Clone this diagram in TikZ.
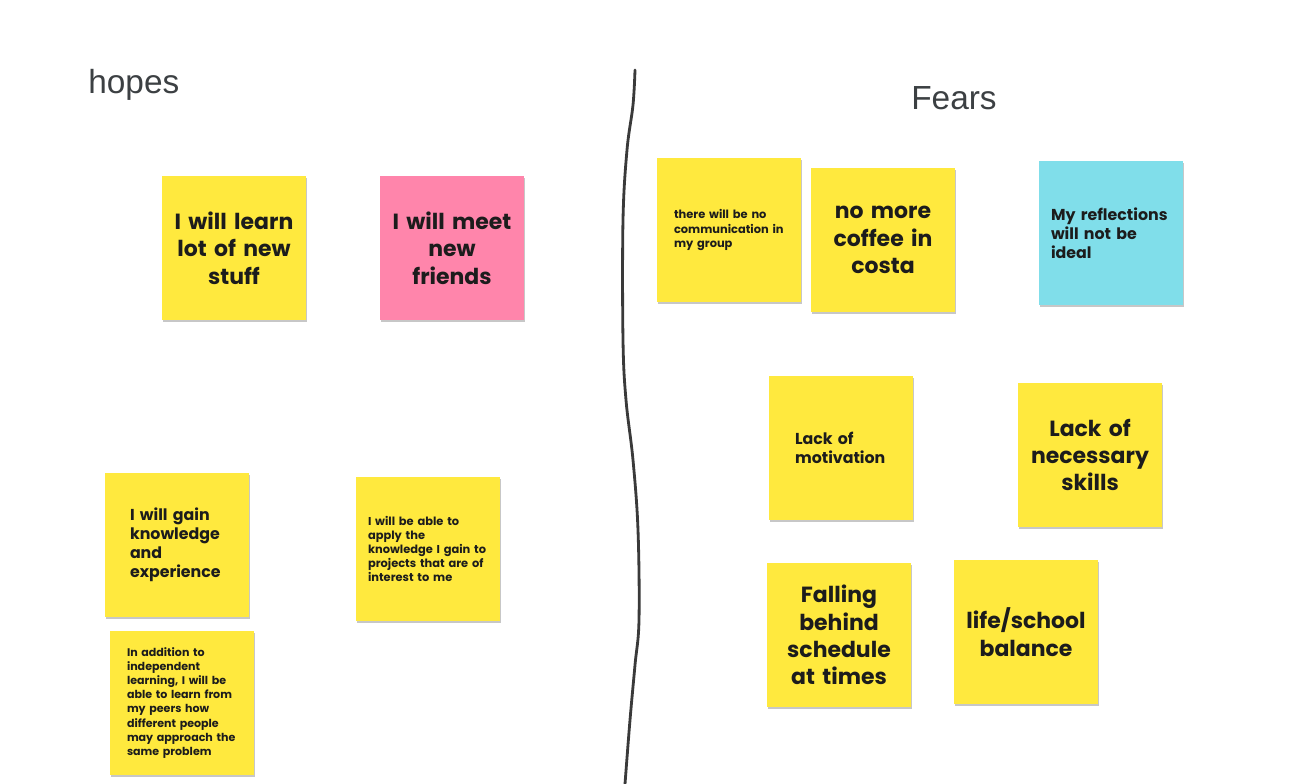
\documentclass[tikz,border=0pt]{standalone}
\usepackage{fontspec}
\setmainfont{Liberation Sans}
\newfontfamily\notefont{Poppins}
\usetikzlibrary{shadows}
\definecolor{noteyellow}{HTML}{FFE93E}
\definecolor{notepink}{HTML}{FF85AB}
\definecolor{noteblue}{HTML}{80DEEA}
\definecolor{titlegrey}{HTML}{3C4043}
\definecolor{linegrey}{HTML}{3A3A3A}
\definecolor{notetext}{HTML}{1C1C1C}
\begin{document}
\begin{tikzpicture}[
  x=0.02cm, y=-0.02cm,
  note/.style={fill=noteyellow, text=notetext, minimum width=2.88cm, minimum height=2.88cm, inner sep=0pt,
    drop shadow={shadow xshift=0.4pt, shadow yshift=-0.9pt, opacity=0.22, fill=black}},
  bignote/.style={note, align=center, text width=2.7cm, font=\notefont\bfseries\fontsize{12.5}{15.6}\selectfont},
  midnote/.style={note, align=left, font=\notefont\bfseries\fontsize{9}{10.9}\selectfont},
  smallnote/.style={note, align=left, font=\notefont\bfseries\fontsize{6.5}{8}\selectfont},
  title/.style={text=titlegrey, font=\fontsize{19}{22}\selectfont, inner sep=0pt}
]
  \useasboundingbox[fill=white] (0,0) rectangle (1292,784);
  % column headings
  \node[title, anchor=west] (hopes) at (88,85) {hopes};
  \node[title] (fears) at (954,98) {Fears};
  % divider
  \draw[linegrey, line width=1.6pt, line cap=round] plot[smooth, tension=0.6] coordinates
    {(635,70) (633,105) (627,150) (623,220) (623,340) (626,400) (633,460) (638,530) (639,620) (635,665) (630,720) (625,784)};
  % hopes
  \node[bignote] (learn) at (234,248) {I will learn\\lot of new\\stuff};
  \node[bignote, fill=notepink] (friends) at (452,248) {I will meet\\new\\friends};
  \node[midnote, inner xsep=0.5cm, text width=1.88cm] (gain) at (177,545) {I will gain\\knowledge\\and\\experience};
  \node[smallnote, inner xsep=0.24cm, text width=2.4cm] (apply) at (428,549) {I will be able to\\apply the\\knowledge I gain to\\projects that are of\\interest to me};
  \node[smallnote, inner xsep=0.34cm, text width=2.2cm, font=\notefont\bfseries\fontsize{6.3}{8}\selectfont] (peers) at (182,703) {In addition to\\independent\\learning, I will be\\able to learn from\\my peers how\\different people\\may approach the\\same problem};
  % fears
  \node[smallnote, inner xsep=0.34cm, text width=2.2cm] (comm) at (729,230) {there will be no\\communication in\\my group};
  \node[bignote] (coffee) at (883,240) {no more\\coffee in\\costa};
  \node[midnote, fill=noteblue, inner xsep=0.24cm, text width=2.4cm] (reflect) at (1111,233) {My reflections\\will not be\\ideal};
  \node[midnote, inner xsep=0.52cm, text width=1.84cm] (motiv) at (841,448) {Lack of\\motivation};
  \node[bignote] (skills) at (1090,455) {Lack of\\necessary\\skills};
  \node[bignote] (behind) at (839,635) {Falling\\behind\\schedule\\at times};
  \node[bignote] (balance) at (1026,632) {life/school\\balance};
\end{tikzpicture}
\end{document}
